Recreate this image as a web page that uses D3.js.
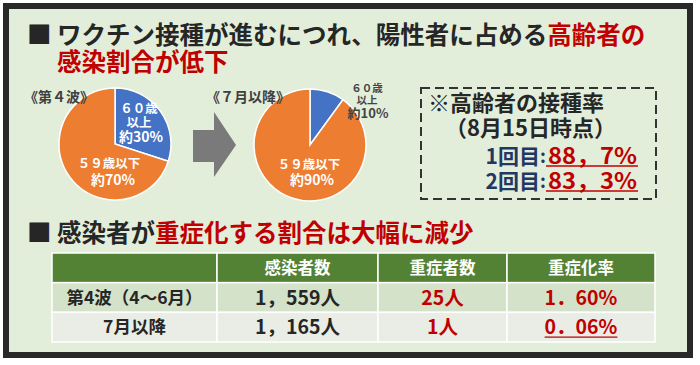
<!DOCTYPE html>
<html><head><meta charset="utf-8">
<script src="https://cdn.jsdelivr.net/npm/d3@7"></script>
<style>
html,body{margin:0;padding:0;background:#fff;}
svg{display:block;font-family:"Noto Sans CJK JP","Noto Sans",sans-serif;}
</style></head>
<body>
<svg id="c" width="700" height="365"></svg>
<script>
// ---- data ----
const titleDark1 = "ワクチン接種が進むにつれ、陽性者に占める";
const titleRed1 = "高齢者の";
const titleRed2 = "感染割合が低下";
const heading2Dark = "感染者が";
const heading2Red = "重症化する割合は大幅に減少";
const pieTitles = ["《第４波》", "《７月以降》"];
const ageGroups = ["60歳以上", "59歳以下"];
const wave4Share = [30, 70];
const julyShare = [10, 90];
const boxTitle = "※高齢者の接種率";
const boxDate = "（8月15日時点）";
const doses = ["1回目", "2回目"];
const doseRates = ["88，7%", "83，3%"];
const tableHeaders = ["", "感染者数", "重症者数", "重症化率"];
const periods = ["第4波（4～6月）", "7月以降"];
const infected = ["1，559人", "1，165人"];
const severe = ["25人", "1人"];
const severeRate = ["1．60%", "0．06%"];

// ---- drawing ----
const svg = d3.select("#c");
const RED = "#c00000", DARK = "#262626", NAVY = "#1f3864";
const ORANGE = "#ed7d31", BLUE = "#4472c4";

svg.append("rect").attr("x", 6).attr("y", 6).attr("width", 684).attr("height", 349)
  .attr("fill", "#e3eeda").attr("stroke", "#282828").attr("stroke-width", 6);

// titles (one text element, two lines)
const t1 = svg.append("text").attr("x", 27).attr("y", 44).attr("font-size", 24.5).attr("font-weight", 700);
t1.append("tspan").attr("fill", DARK).text("■ ");
t1.append("tspan").attr("x", 57).attr("fill", DARK).text(titleDark1);
t1.append("tspan").attr("fill", RED).text(titleRed1);
t1.append("tspan").attr("x", 57).attr("y", 71).attr("fill", RED).text(titleRed2);

const t2 = svg.append("text").attr("x", 27).attr("y", 242).attr("font-size", 24.5).attr("font-weight", 700);
t2.append("tspan").attr("fill", DARK).text("■ ");
t2.append("tspan").attr("x", 57).attr("fill", DARK).text(heading2Dark);
t2.append("tspan").attr("fill", RED).text(heading2Red);

// pies
const pie = d3.pie().sort(null).value(d => d);
const color = d3.scaleOrdinal().domain(ageGroups).range([BLUE, ORANGE]);
const arc = d3.arc().innerRadius(0).outerRadius(56);
function drawPie(cx, cy, values) {
  const g = svg.append("g").attr("transform", `translate(${cx},${cy})`);
  g.selectAll("path").data(pie(values)).join("path")
    .attr("d", arc).attr("fill", (d, i) => color(ageGroups[i]))
    .attr("stroke", "#fff").attr("stroke-width", 1.5);
  return g;
}
drawPie(115, 144, wave4Share);
drawPie(310, 145, julyShare);

svg.append("text").attr("x", 24).attr("y", 102).attr("font-size", 14).attr("font-weight", 700)
  .attr("fill", "#404040").text(pieTitles[0]);
svg.append("text").attr("x", 206).attr("y", 102).attr("font-size", 14).attr("font-weight", 700)
  .attr("fill", "#404040").text(pieTitles[1]);

// multi-line label: lines = [[text, x, y, size], ...]
function mlbl(lines, fill) {
  const t = svg.append("text").attr("text-anchor", "middle").attr("font-weight", 700).attr("fill", fill);
  lines.forEach(([txt, x, y, size]) => {
    t.append("tspan").attr("x", x).attr("y", y).attr("font-size", size).text(txt);
  });
}
const fw = s => s.replace(/[0-9]/g, c => String.fromCharCode(c.charCodeAt(0) + 0xFEE0));
const a1a = fw(ageGroups[0].slice(0, 3)), a1b = ageGroups[0].slice(3);
const a2txt = fw(ageGroups[1].slice(0, 2)) + ageGroups[1].slice(2);
// pie 1 labels
mlbl([[a1a, 139, 113, 12.5], [a1b, 139, 127, 12.5], ["約" + wave4Share[0] + "%", 141, 142, 14]], "#fff");
mlbl([[a2txt, 109, 168, 12.5], ["約" + wave4Share[1] + "%", 113, 185, 14]], "#fff");
// pie 2 labels
mlbl([[a1a, 367, 92, 10.5], [a1b, 367, 104, 10.5], ["約" + julyShare[0] + "%", 368, 118, 13]], "#444");
mlbl([[a2txt, 309, 169, 12.5], ["約" + julyShare[1] + "%", 312, 185, 14]], "#fff");

// arrow
svg.append("path").attr("d", "M193,130 L214,130 L214,112 L236,145 L214,177 L214,162 L193,162 Z")
  .attr("fill", "#7a7a7a");

// dashed box
svg.append("rect").attr("x", 421).attr("y", 88).attr("width", 235).attr("height", 111)
  .attr("fill", "none").attr("stroke", "#333").attr("stroke-width", 2).attr("stroke-dasharray", "9,5");
const bt = svg.append("text").attr("font-size", 22).attr("font-weight", 700).attr("fill", DARK);
bt.append("tspan").attr("x", 428).attr("y", 111).text(boxTitle);
bt.append("tspan").attr("x", 445).attr("y", 136).text(boxDate);

const doseY = d3.scalePoint().domain(doses).range([164, 189]);
const dl = svg.append("text").attr("text-anchor", "end").attr("font-size", 21)
  .attr("font-weight", 700).attr("fill", NAVY);
const dc = svg.append("text").attr("font-size", 18).attr("font-weight", 700).attr("fill", NAVY);
const dv = svg.append("text").attr("font-size", 22).attr("font-weight", 700).attr("fill", RED);
doses.forEach((d, i) => {
  const y = doseY(d);
  dl.append("tspan").attr("x", 540).attr("y", y).text(d);
  dc.append("tspan").attr("x", 540).attr("y", y - 1).text(":");
  dv.append("tspan").attr("x", 548).attr("y", y)
    .attr("textLength", 89).attr("lengthAdjust", "spacingAndGlyphs").text(doseRates[i]);
  svg.append("line").attr("x1", 546).attr("x2", 638).attr("y1", y + 2).attr("y2", y + 2)
    .attr("stroke", RED).attr("stroke-width", 1.5);
});

// table
const colEdges = [52, 217, 378, 507, 655];
const rows = ["header", ...periods];
const rowY = d3.scaleBand().domain(rows).range([253, 342]).paddingInner(0);
const rowFill = ["#548235", "#d3e2c8", "#e9ede5"];
const cells = [tableHeaders,
  [periods[0], infected[0], severe[0], severeRate[0]],
  [periods[1], infected[1], severe[1], severeRate[1]]];
rows.forEach((r, ri) => {
  const y = rowY(r), h = rowY.bandwidth();
  for (let c = 0; c < 4; c++) {
    const x0 = colEdges[c], x1 = colEdges[c + 1];
    svg.append("rect").attr("x", x0).attr("y", y).attr("width", x1 - x0).attr("height", h)
      .attr("fill", rowFill[ri]).attr("stroke", "#fff").attr("stroke-width", 1.5);
    const txt = cells[ri][c];
    if (!txt) continue;
    let fill = DARK, size = 19.5;
    if (ri === 0) { fill = "#fff"; size = 16.5; }
    else if (c === 0) { size = 17.5; }
    else if (c >= 2) { fill = RED; }
    const cx = (x0 + x1) / 2;
    const t = svg.append("text").attr("x", cx).attr("y", y + h / 2 + size * 0.36)
      .attr("text-anchor", "middle").attr("font-size", size).attr("font-weight", 700)
      .attr("fill", fill).text(txt);
    if (ri === 2 && c === 3) {
      const w = t.node().getComputedTextLength();
      svg.append("line").attr("x1", cx - w / 2).attr("x2", cx + w / 2)
        .attr("y1", y + h / 2 + size * 0.36 + 3).attr("y2", y + h / 2 + size * 0.36 + 3)
        .attr("stroke", RED).attr("stroke-width", 1.2);
    }
  }
});
</script>
</body></html>
